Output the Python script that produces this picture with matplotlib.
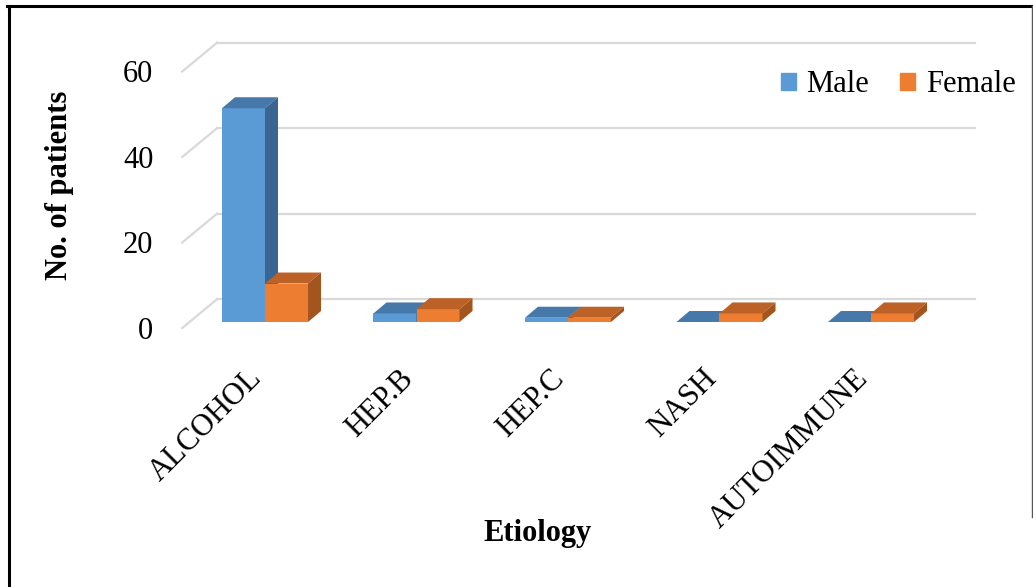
import matplotlib
matplotlib.use("Agg")
import matplotlib.pyplot as plt
from matplotlib.patches import Polygon, Patch
from matplotlib.lines import Line2D

plt.rcParams['font.family'] = ['Liberation Serif', 'DejaVu Serif']

categories = ["ALCOHOL", "HEP.B", "HEP.C", "NASH", "AUTOIMMUNE"]
male = [50, 2, 1, 0, 0]
female = [9, 3, 1, 2, 2]
yticks = [0, 20, 40, 60]

male_cols = ("#5B9BD5", "#4678AA", "#3A6590")    # front, top, side
female_cols = ("#ED7D31", "#BC6226", "#A2551D")

W, H = 1033, 587
fig = plt.figure(figsize=(W / 100, H / 100), dpi=100)

# axes placed so that 1 category = 151.5 px and 1 patient = 4.275 px
px_x, px_y = 151.5, 4.275
x0_px, y0_px = 265, H - 322
xlim = (-1, 5)
ylim = (-10, 70)
ax = fig.add_axes([(x0_px + xlim[0] * px_x) / W, (y0_px + ylim[0] * px_y) / H,
                   (xlim[1] - xlim[0]) * px_x / W, (ylim[1] - ylim[0]) * px_y / H])
ax.set_xlim(*xlim)
ax.set_ylim(*ylim)
ax.axis("off")

# pseudo-3d offsets in data units
front = (-7 / px_x, -6 / px_y)     # floor front edge
wall = (28 / px_x, 23 / px_y)      # back wall
depth = (13 / px_x, 11 / px_y)     # bar depth

n = len(categories)
grid_c = "#D9D9D9"
for v in yticks:
    ax.plot([-0.5 + wall[0], n - 0.5 + wall[0]], [v + wall[1], v + wall[1]],
            color=grid_c, lw=1.6, zorder=1)
    ax.plot([-0.5 + front[0], -0.5 + wall[0]], [v + front[1], v + wall[1]],
            color=grid_c, lw=1.6, zorder=1)
    ax.text(-0.5 + front[0] - 0.19, v - 2.2, str(v), ha="right", va="center",
            fontsize=22)

w = 0.284


def bar3d(x, h, cols, z):
    ax.bar(x, h, w, align="edge", color=cols[0], lw=0, zorder=z)
    dx, dy = depth
    ax.add_patch(Polygon([(x, h), (x + w, h), (x + w + dx, h + dy), (x + dx, h + dy)],
                         closed=True, fc=cols[1], lw=0, zorder=z))
    ax.add_patch(Polygon([(x + w, 0), (x + w, h), (x + w + dx, h + dy), (x + w + dx, dy)],
                         closed=True, fc=cols[2], lw=0, zorder=z))


for i in range(n):
    bar3d(i - w, male[i], male_cols, 3 + 2 * i)
    bar3d(i, female[i], female_cols, 4 + 2 * i)
    ax.text(i - 0.05, -12.2, categories[i], rotation=45, rotation_mode="anchor",
            ha="right", va="center", fontsize=22)

fig.text(60 / W, 1 - 185 / H, "No. of patients", rotation=90, ha="center",
         va="center", fontsize=22, fontweight="bold")
fig.text(538 / W, 1 - 533 / H, "Etiology", ha="center", va="center",
         fontsize=22, fontweight="bold")

handles = [Patch(color=male_cols[0], label="Male"),
           Patch(color=female_cols[0], label="Female")]
fig.legend(handles=handles, loc="center", bbox_to_anchor=(898 / W, 1 - 85 / H),
           ncol=2, frameon=False, fontsize=22, handlelength=0.5, handleheight=0.5,
           handletextpad=0.35, columnspacing=1.0, borderpad=0)

# frame around the figure
fig.add_artist(Line2D([7 / W, 1], [1 - 5.5 / H, 1 - 5.5 / H], color="black", lw=2.2))
fig.add_artist(Line2D([8.5 / W, 8.5 / W], [0, 1 - 5.5 / H], color="black", lw=2.2))
fig.add_artist(Line2D([1 - 1.5 / W, 1 - 1.5 / W], [0.12, 1 - 5.5 / H], color="#555555", lw=1))

fig.savefig("out.png", dpi=100)
